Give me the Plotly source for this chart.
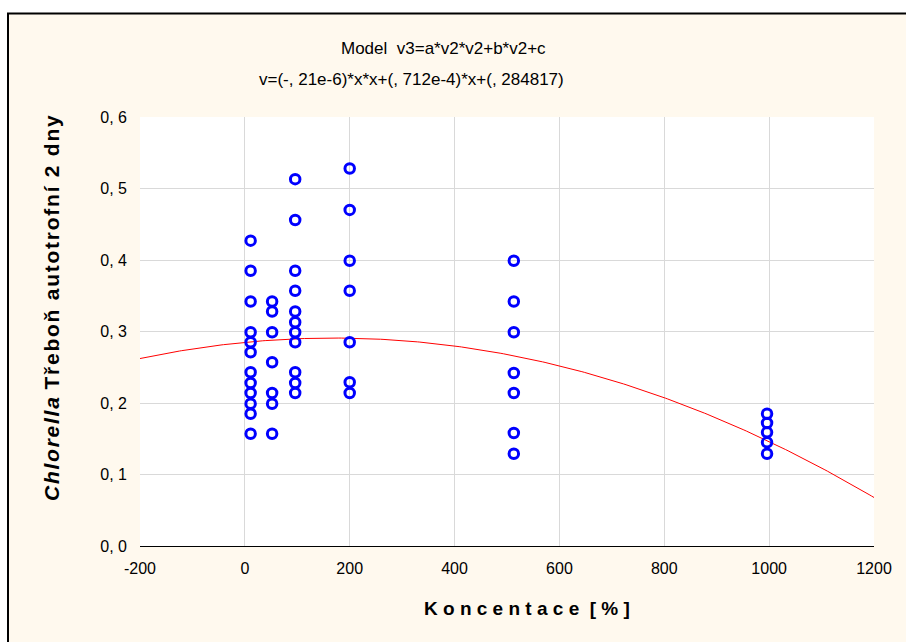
import numpy as np
import plotly.graph_objects as go

# Concentration groups and measured values
conc_levels = [11, 52, 96, 200, 513, 996]
values_by_level = [
    [0.427, 0.385, 0.342, 0.299, 0.285, 0.271, 0.243, 0.228, 0.214, 0.199, 0.185, 0.157],
    [0.342, 0.328, 0.299, 0.257, 0.214, 0.199, 0.157],
    [0.513, 0.456, 0.385, 0.357, 0.328, 0.313, 0.299, 0.285, 0.243, 0.228, 0.214],
    [0.528, 0.470, 0.399, 0.357, 0.285, 0.229, 0.214],
    [0.399, 0.342, 0.299, 0.242, 0.214, 0.158, 0.129],
    [0.185, 0.172, 0.159, 0.145, 0.129],
]

# Quadratic model coefficients: y = a*x*x + b*x + c
coef_a = -0.21e-6
coef_b = 0.712e-4
coef_c = 0.284817

x_tickvals = [-200, 0, 200, 400, 600, 800, 1000, 1200]
x_ticktext = ["-200", "0", "200", "400", "600", "800", "1000", "1200"]
y_tickvals = [0.0, 0.1, 0.2, 0.3, 0.4, 0.5, 0.6]
y_ticktext = ["0, 0", "0, 1", "0, 2", "0, 3", "0, 4", "0, 5", "0, 6"]

W, H = 906, 642
L, R, T, B = 140, 874, 117, 546  # plot area in pixels


def px(xp):
    return (xp - L) / (R - L)


def py(yp):
    return (B - yp) / (B - T)


def spaced(s, sep="\u200a"):
    """Open up letter spacing with hair spaces."""
    return sep.join(s)


xs, ys = [], []
for c, vals in zip(conc_levels, values_by_level):
    xs += [c] * len(vals)
    ys += vals

xfit = np.linspace(-200, 1200, 300)
yfit = coef_a * xfit * xfit + coef_b * xfit + coef_c

sans = "Liberation Sans, Arial"

fig = go.Figure()
fig.add_trace(go.Scatter(x=xfit, y=yfit, mode="lines",
                         line=dict(color="#FF0000", width=1), hoverinfo="skip"))
fig.add_trace(go.Scatter(x=xs, y=ys, mode="markers",
                         marker=dict(symbol="circle-open", size=9.5, color="#0000FF",
                                     line=dict(width=3, color="#0000FF"))))

shapes = [
    # white margin strips and the black frame edges
    dict(type="rect", xref="paper", yref="paper", x0=px(0), x1=px(W), y0=py(13), y1=py(0),
         fillcolor="white", line=dict(width=0), layer="above"),
    dict(type="rect", xref="paper", yref="paper", x0=px(0), x1=px(8), y0=py(H), y1=py(0),
         fillcolor="white", line=dict(width=0), layer="above"),
    dict(type="line", xref="paper", yref="paper", x0=px(7), x1=px(W + 5), y0=py(13.5), y1=py(13.5),
         line=dict(color="black", width=2), layer="above"),
    dict(type="line", xref="paper", yref="paper", x0=px(8), x1=px(8), y0=py(13), y1=py(H + 5),
         line=dict(color="black", width=2), layer="above"),
]

ylabel = "<b><i>" + spaced("Chlorella") + "</i>\u200a " + spaced("Třeboň autotrofní 2 dny") + "</b>"

annotations = [
    dict(text="Model&nbsp;&nbsp;v3=a*v2*v2+b*v2+c", x=px(443), y=py(48), xref="paper", yref="paper",
         showarrow=False, font=dict(family=sans, size=17, color="black"),
         xanchor="center", yanchor="middle"),
    dict(text="v=(-, 21e-6)*x*x+(, 712e-4)*x+(, 284817)", x=px(411), y=py(80), xref="paper", yref="paper",
         showarrow=False, font=dict(family=sans, size=17, color="black"),
         xanchor="center", yanchor="middle"),
    dict(text=ylabel, x=px(51), y=py(308),
         xref="paper", yref="paper",
         showarrow=False, textangle=-90, font=dict(family=sans, size=21, color="black"),
         xanchor="center", yanchor="middle"),
    dict(text="<b>K o n c e n t a c e &nbsp;[ % ]</b>", x=px(527), y=py(608), xref="paper", yref="paper",
         showarrow=False, font=dict(family=sans, size=19, color="black"),
         xanchor="center", yanchor="middle"),
]

fig.update_layout(
    width=W, height=H,
    margin=dict(l=L, r=W - R, t=T, b=H - B),
    paper_bgcolor="#FFF9EE",
    plot_bgcolor="white",
    showlegend=False,
    shapes=shapes,
    annotations=annotations,
    xaxis=dict(range=[-200, 1200], tickvals=x_tickvals, ticktext=x_ticktext,
               showgrid=True, gridcolor="#D9D9D9", gridwidth=1, zeroline=False,
               showline=True, linecolor="black", linewidth=1, ticks="",
               tickfont=dict(family=sans, size=16, color="black"), ticklabelstandoff=8),
    yaxis=dict(range=[0, 0.6], tickvals=y_tickvals, ticktext=y_ticktext,
               showgrid=True, gridcolor="#D9D9D9", gridwidth=1, zeroline=False,
               showline=False, ticks="",
               tickfont=dict(family=sans, size=16, color="black"), ticklabelstandoff=12),
)

fig.write_html("out.html")
